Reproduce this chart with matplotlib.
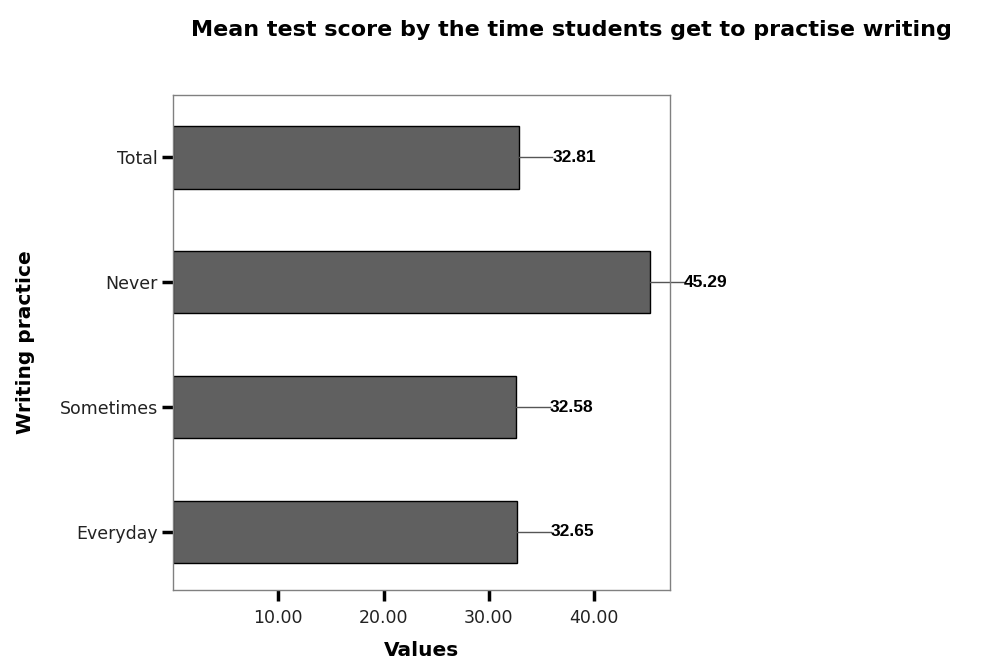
import numpy as np
import matplotlib.pyplot as plt

categories = ['Everyday', 'Sometimes', 'Never', 'Total']
means = [32.65, 32.58, 45.29, 32.81]
xticks = [10, 20, 30, 40]

plt.rcParams['font.family'] = ['DejaVu Sans']

fig = plt.figure(figsize=(9.81, 6.64), dpi=100)
ax = fig.add_axes([0.1764, 0.1114, 0.5066, 0.7455])

y = np.arange(len(categories))
ax.barh(y, means, height=0.5, color='#606060', edgecolor='black', linewidth=1)

# leader lines + bold value labels
off = 3.2
for i, v in enumerate(means):
    ax.plot([v, v + off], [i, i], color='#555555', lw=1, clip_on=False)
    ax.text(v + off, i, '%.2f' % v, va='center', ha='left',
            fontsize=12.5, fontweight='bold', family='Liberation Sans')

ax.set_xlim(0, 47.2)
ax.set_ylim(-0.465, 3.5)
ax.set_yticks(y)
ax.set_yticklabels(categories, fontsize=12.5, color='#222222')
ax.set_xticks(xticks)
ax.set_xticklabels(['%.2f' % t for t in xticks], fontsize=12.5, color='#222222')
ax.tick_params(length=8, width=2.5, color='black', pad=3)
ax.tick_params(axis='x', pad=6)
for s in ax.spines.values():
    s.set_color('#808080')
    s.set_linewidth(1)

ax.set_xlabel('Values', fontsize=14.5, fontweight='bold', labelpad=10)
ax.set_ylabel('Writing practice', fontsize=14.5, fontweight='bold', labelpad=18)
fig.text(0.582, 0.955, 'Mean test score by the time students get to practise writing',
         ha='center', va='center', fontsize=16, fontweight='bold')

fig.savefig('out.png', dpi=100)
